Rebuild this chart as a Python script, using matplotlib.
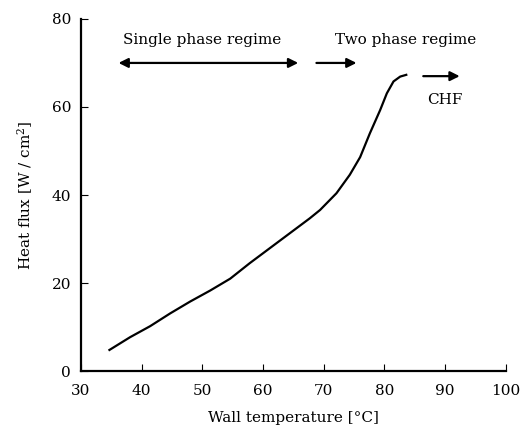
import numpy as np
import matplotlib.pyplot as plt

# Boiling curve
wall_temp = [34.7, 38.1, 41.4, 44.7, 48.0, 51.3, 54.6, 57.8, 61.1, 64.4,
             67.7, 69.4, 72.1, 74.3, 76.0, 77.6, 79.3, 80.4, 81.5, 82.6, 83.6]
heat_flux = [4.8, 7.7, 10.2, 13.1, 15.8, 18.3, 21.0, 24.5, 27.9, 31.3,
             34.7, 36.6, 40.4, 44.6, 48.6, 54.0, 59.3, 63.1, 65.8, 66.9, 67.3]

# Regime arrows: (x_start, x_end, y)
single_arrow = (36.2, 65.8, 70)
two_arrow = (68.8, 75.4, 70)
chf_arrow = (86.4, 92.4, 67)

plt.rcParams['font.family'] = ['DejaVu Serif']
plt.rcParams['font.size'] = 11
plt.rcParams['mathtext.default'] = 'regular'

fig = plt.figure(figsize=(5.22, 4.30), dpi=100)
ax = fig.add_axes([0.155, 0.137, 0.814, 0.819])

ax.plot(wall_temp, heat_flux, color='black', lw=1.6)

arrow_kw = dict(color='black', lw=1.6, mutation_scale=14, shrinkA=0, shrinkB=0)
ax.annotate('', xy=(single_arrow[1], single_arrow[2]), xytext=(single_arrow[0], single_arrow[2]),
            arrowprops=dict(arrowstyle='<|-|>', **arrow_kw))
ax.annotate('', xy=(two_arrow[1], two_arrow[2]), xytext=(two_arrow[0], two_arrow[2]),
            arrowprops=dict(arrowstyle='-|>', **arrow_kw))
ax.annotate('', xy=(chf_arrow[1], chf_arrow[2]), xytext=(chf_arrow[0], chf_arrow[2]),
            arrowprops=dict(arrowstyle='-|>', **arrow_kw))

ax.text(49.9, 75.2, 'Single phase regime', ha='center', va='center')
ax.text(83.5, 75.2, 'Two phase regime', ha='center', va='center')
ax.text(89.9, 61.6, 'CHF', ha='center', va='center')

ax.set_xlim(30, 100)
ax.set_ylim(0, 80)
ax.set_xticks(np.arange(30, 101, 10))
ax.set_yticks(np.arange(0, 81, 20))
ax.set_xlabel('Wall temperature [°C]', labelpad=10)
ax.set_ylabel('Heat flux [W / cm$^2$]', labelpad=12)

for side in ['top', 'right']:
    ax.spines[side].set_visible(False)
for side in ['left', 'bottom']:
    ax.spines[side].set_linewidth(1.6)
ax.tick_params(direction='in', length=5, width=0.8)
ax.tick_params(axis='x', pad=9)
ax.tick_params(axis='y', pad=7)

fig.savefig('out.png', dpi=100)
